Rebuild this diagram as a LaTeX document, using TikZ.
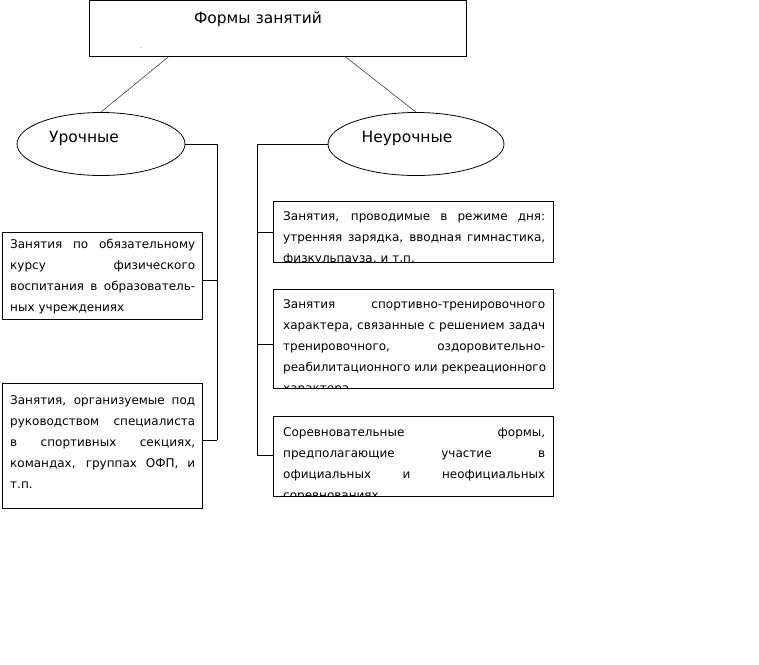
\documentclass[tikz,border=0pt]{standalone}
\usepackage{fontspec}
\setmainfont{DejaVu Sans}
\usetikzlibrary{shapes.geometric, positioning}
\newcommand{\fullline}[1]{\hbox to \hsize{\spaceskip=0.32em plus 1fil\relax #1}}
\newcommand{\lastline}[1]{\hbox{#1}}

\begin{document}
\begin{tikzpicture}[x=1pt,y=-1pt]
    \tikzset{frame/.style = {draw, line width=0.8pt, anchor=north west, inner sep=0pt}}
    \tikzset{kind/.style = {draw, ellipse, line width=0.8pt, minimum height=63pt, inner sep=0pt}}
    \tikzset{wire/.style = {line width=0.8pt}}
    \tikzset{slant/.style = {line width=0.6pt, black!75}}
    \tikzset{inside/.style = {anchor=north west, text width=#1, inner sep=0pt,
        font=\fontsize{12}{21}\selectfont}}
    \tikzset{big/.style = {inner sep=0pt, font=\fontsize{15.5}{17}\selectfont}}
    \useasboundingbox (0,0) rectangle (759,664);
    % top box
    \node[frame, minimum width=377pt, minimum height=56pt] (top) at (89,0) {};
    \node[big] (title) at (258,19) {Формы занятий};
    \node[inner sep=0pt, font=\tiny] (dot) at (141,48) {.};
    % ellipses
    \node[kind, minimum width=168pt] (lesson) at (101,144) {};
    \node[big] (lessonname) at (84,138) {Урочные};
    \node[kind, minimum width=176pt] (extra) at (416,144) {};
    \node[big] (extraname) at (407,138) {Неурочные};
    % boxes
    \node[frame, minimum width=200pt, minimum height=87pt] (b1) at (2,232) {};
    \node[frame, minimum width=200pt, minimum height=125pt] (b2) at (2,383) {};
    \node[frame, minimum width=280pt, minimum height=61pt] (b3) at (273,201) {};
    \node[frame, minimum width=280pt, minimum height=99pt] (b4) at (273,289) {};
    \node[frame, minimum width=280pt, minimum height=80pt] (b5) at (273,416) {};
    % box texts
    \begin{scope}
        \clip (b1.north west) rectangle (b1.south east);
        \node[inside=185pt] (t1) at ([shift={(8pt,-6.5pt)}]b1.north west) {%
            \fullline{Занятия по обязательному}
            \fullline{курсу физического}
            \fullline{воспитания в образователь-}
            \lastline{ных учреждениях}};
    \end{scope}
    \begin{scope}
        \clip (b2.north west) rectangle (b2.south east);
        \node[inside=185pt] (t2) at ([shift={(8pt,-12.5pt)}]b2.north west) {%
            \fullline{Занятия, организуемые под}
            \fullline{руководством специалиста}
            \fullline{в спортивных секциях,}
            \fullline{командах, группах ОФП, и}
            \lastline{т.п.}};
    \end{scope}
    \begin{scope}
        \clip (b3.north west) rectangle (b3.south east);
        \node[inside=262pt] (t3) at ([shift={(10pt,-10pt)}]b3.north west) {%
            \fullline{Занятия, проводимые в режиме дня:}
            \fullline{утренняя зарядка, вводная гимнастика,}
            \lastline{физкульпауза, и т.п.}};
    \end{scope}
    \begin{scope}
        \clip (b4.north west) rectangle (b4.south east);
        \node[inside=262pt] (t4) at ([shift={(10pt,-10.5pt)}]b4.north west) {%
            \fullline{Занятия спортивно-тренировочного}
            \fullline{характера, связанные с решением задач}
            \fullline{тренировочного, оздоровительно-}
            \fullline{реабилитационного или рекреационного}
            \lastline{характера}};
    \end{scope}
    \begin{scope}
        \clip (b5.north west) rectangle (b5.south east);
        \node[inside=262pt] (t5) at ([shift={(10pt,-11pt)}]b5.north west) {%
            \fullline{Соревновательные формы,}
            \fullline{предполагающие участие в}
            \fullline{официальных и неофициальных}
            \lastline{соревнованиях}};
    \end{scope}
    % junctions
    \coordinate (lbus) at (217,144);
    \coordinate (lj1) at (217,280);
    \coordinate (lj2) at (217,440);
    \coordinate (rbus) at (257,144);
    \coordinate (rj1) at (257,232);
    \coordinate (rj2) at (257,344);
    \coordinate (rj3) at (257,455);
    % edges
    \draw[slant] ([xshift=-109.5pt]top.south) -- (lesson.north);
    \draw[slant] ([xshift=67.5pt]top.south) -- (extra.north);
    \draw[wire] (lesson.east) -- (lbus) -- (lj2);
    \draw[wire] (lj1) -- (lj1 -| b1.east);
    \draw[wire] (lj2) -- (lj2 -| b2.east);
    \draw[wire] (extra.west) -- (rbus) -- (rj3);
    \draw[wire] (rj1) -- (rj1 -| b3.west);
    \draw[wire] (rj2) -- (rj2 -| b4.west);
    \draw[wire] (rj3) -- (rj3 -| b5.west);
\end{tikzpicture}
\end{document}
